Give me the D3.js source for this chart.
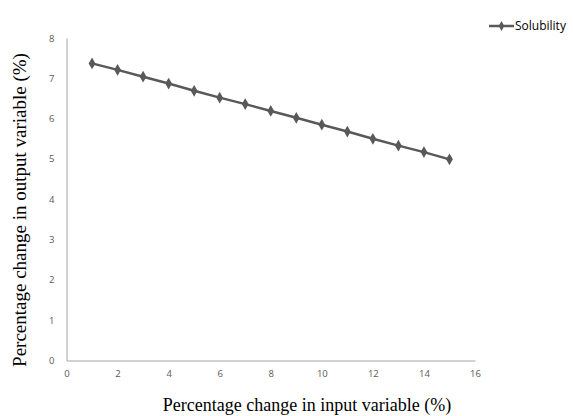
<!DOCTYPE html>
<html>
<head>
<meta charset="utf-8">
<script src="https://cdn.jsdelivr.net/npm/d3@7"></script>
<style>
  body { margin: 0; background: #fff; }
  svg { display: block; }
</style>
</head>
<body>
<svg id="chart" width="573" height="416"></svg>
<script>
// data
var inputChange = [1, 2, 3, 4, 5, 6, 7, 8, 9, 10, 11, 12, 13, 14, 15];
var solubility = [7.37, 7.21, 7.04, 6.87, 6.69, 6.52, 6.36, 6.19, 6.02, 5.85, 5.68, 5.50, 5.33, 5.17, 4.99];
var xTicks = [0, 2, 4, 6, 8, 10, 12, 14, 16];
var yTicks = [0, 1, 2, 3, 4, 5, 6, 7, 8];
var seriesName = "Solubility";

var svg = d3.select("svg#chart");
var margin = {top: 38, left: 66.5, bottom: 55.5, right: 98};
var width = 573, height = 416;

var x = d3.scaleLinear().domain([0, 16]).range([margin.left, width - margin.right]);
var y = d3.scaleLinear().domain([0, 8]).range([height - margin.bottom, margin.top]);

var tickFont = "'Open Sans', sans-serif";
var gray = "#595959";
var serif = "'Liberation Serif', 'Times New Roman', serif";

// x axis
var xAxis = svg.append("g")
  .attr("transform", translate(0, y(0)))
  .call(d3.axisBottom(x).tickValues(xTicks).tickSize(0).tickPadding(10));
// y axis
var yAxis = svg.append("g")
  .attr("transform", translate(x(0), 0))
  .call(d3.axisLeft(y).tickValues(yTicks).tickSize(0).tickPadding(12));

[xAxis, yAxis].forEach(function(a) {
  a.select(".domain").attr("stroke", "#a6a6a6").attr("stroke-width", 1);
  a.selectAll("text")
    .attr("font-family", tickFont)
    .attr("font-size", 9.5)
    .attr("fill", gray);
});

// the line
var line = d3.line()
  .x((d, i) => x(inputChange[i]))
  .y(d => y(d));

svg.append("path")
  .datum(solubility)
  .attr("fill", "none")
  .attr("stroke", gray)
  .attr("stroke-width", 2.5)
  .attr("d", line);

var diamond = d3.symbol().type(d3.symbolDiamond).size(40);
svg.selectAll("path.marker")
  .data(solubility)
  .enter().append("path")
  .attr("class", "marker")
  .attr("d", diamond)
  .attr("fill", gray)
  .attr("transform", (d, i) => translate(x(inputChange[i]), y(d)));

// legend
var legend = svg.append("g").attr("transform", translate(489, 26));
legend.append("line")
  .attr("x1", 0).attr("x2", 25)
  .attr("stroke", gray).attr("stroke-width", 2.5);
legend.append("path")
  .attr("d", d3.symbol().type(d3.symbolDiamond).size(28))
  .attr("fill", gray)
  .attr("transform", translate(12.5, 0));
legend.append("text")
  .attr("x", 26)
  .attr("dy", "0.35em")
  .attr("font-family", tickFont)
  .attr("font-size", 12)
  .attr("fill", "#000")
  .text(seriesName);

// axis titles
svg.append("text")
  .attr("x", 307)
  .attr("y", 411)
  .attr("text-anchor", "middle")
  .attr("font-family", serif)
  .attr("font-size", 18)
  .attr("fill", "#000")
  .text("Percentage change in input variable (%)");

svg.append("text")
  .attr("transform", translate(26, 210) + " rotate(-90)")
  .attr("text-anchor", "middle")
  .attr("font-family", serif)
  .attr("font-size", 19)
  .attr("fill", "#000")
  .text("Percentage change in output variable (%)");

function translate(x, y) {
  return 'translate(' + String(x) + ',' + String(y) + ')';
}
</script>
</body>
</html>
